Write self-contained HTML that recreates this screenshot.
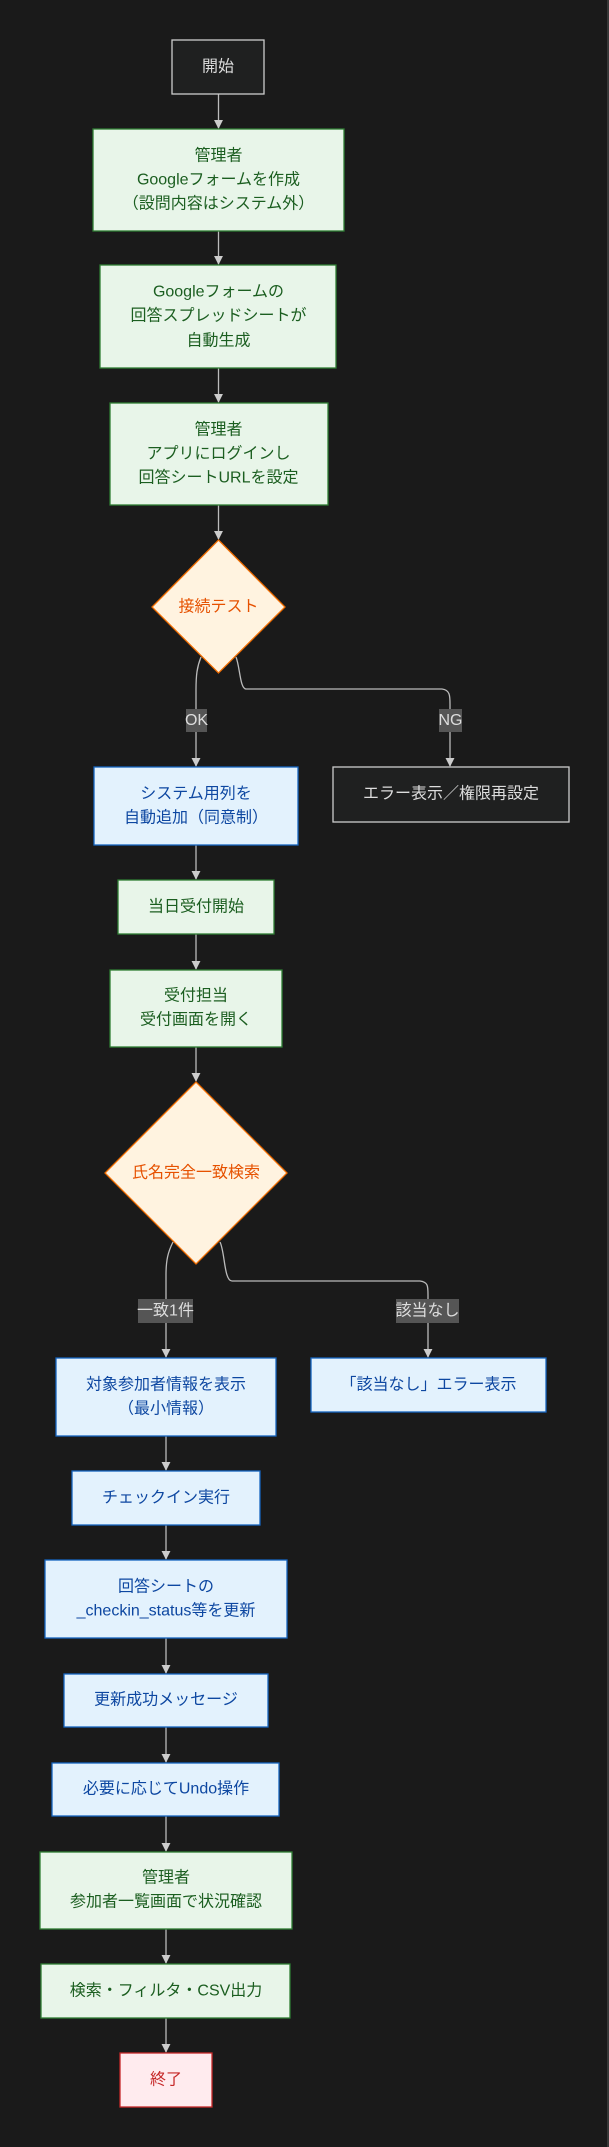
<!DOCTYPE html>
<html><head><meta charset="utf-8"><style>
html,body{margin:0;padding:0;background:#1a1a1a;}
svg{display:block;}
text{font-family:"Liberation Sans","Noto Sans CJK JP",sans-serif;font-size:16px;text-anchor:middle;dominant-baseline:central;}
.g rect{fill:#e8f5e9;stroke:#2e7d32;stroke-width:1.3}
.g text{fill:#1b5e20}
.b rect{fill:#e3f2fd;stroke:#1565c0;stroke-width:1.3}
.b text{fill:#0d47a1}
.d rect{fill:#1f2020;stroke:#cccccc;stroke-width:1.3}
.d text{fill:#dddddd}
.e{fill:none;stroke:#bbbbbb;stroke-width:1.3}
.lb rect{fill:#555555}
.lb text{fill:#dddddd}
</style></head><body>
<svg width="609" height="2147" viewBox="0 0 609 2147" xmlns="http://www.w3.org/2000/svg">
<defs><marker id="a" viewBox="0 0 10 10" refX="9" refY="5" markerWidth="7" markerHeight="7" orient="auto"><path d="M0,0L10,5L0,10z" fill="#cccccc"/></marker></defs>
<rect x="0" y="0" width="609" height="2147" fill="#1a1a1a"/>
<line x1="608" y1="0" x2="608" y2="2147" stroke="#555" stroke-width="1"/>

<g class="e" marker-end="url(#a)">
<path d="M218.5 94V128"/>
<path d="M218.5 231V264"/>
<path d="M218.5 368V402"/>
<path d="M218.5 505V539"/>
<path d="M201 657C197 667 196 675 196 690V766"/>
<path d="M236 657C240 667 240 689 246 689H442C450 690 450 696 450 704V766"/>
<path d="M196 845V879"/>
<path d="M196 934V969"/>
<path d="M196 1047V1081"/>
<path d="M173 1242C168 1252 166 1260 166 1275V1357"/>
<path d="M220 1242C225 1252 224 1281 232 1281H420C428 1282 428 1286 428 1295V1357"/>
<path d="M166 1436V1470"/>
<path d="M166 1525V1559"/>
<path d="M166 1638V1673"/>
<path d="M166 1727V1762"/>
<path d="M166 1816V1851"/>
<path d="M166 1929V1963"/>
<path d="M166 2018V2052"/>
</g>
<g class="lb">
<rect x="186" y="709" width="21" height="23"/><text x="196.5" y="720.5">OK</text>
<rect x="439" y="709" width="23" height="23"/><text x="450.5" y="720.5">NG</text>
<rect x="138" y="1299" width="55" height="24"/><text x="165.5" y="1311">一致1件</text>
<rect x="396" y="1299" width="63" height="24"/><text x="427.5" y="1311">該当なし</text>
</g>

<g class="d"><rect x="172" y="40" width="92" height="54"/><text x="218" y="67">開始</text></g>
<g class="g"><rect x="93" y="129" width="251" height="102"/>
<text x="218.5" y="156">管理者</text><text x="218.5" y="180">Googleフォームを作成</text><text x="218.5" y="204">（設問内容はシステム外）</text></g>
<g class="g"><rect x="100" y="265" width="236" height="103"/>
<text x="218.5" y="292">Googleフォームの</text><text x="218.5" y="316">回答スプレッドシートが</text><text x="218.5" y="341">自動生成</text></g>
<g class="g"><rect x="110" y="403" width="218" height="102"/>
<text x="218.5" y="430">管理者</text><text x="218.5" y="454">アプリにログインし</text><text x="218.5" y="478">回答シートURLを設定</text></g>
<polygon points="218.5,540 285,607 218.5,673 152,607" fill="#fff3e0" stroke="#ef6c00" stroke-width="1.3"/>
<text x="218.5" y="607" fill="#e65100">接続テスト</text>

<g class="b"><rect x="94" y="767" width="204" height="78"/>
<text x="196" y="794">システム用列を</text><text x="196" y="818">自動追加（同意制）</text></g>
<g class="d"><rect x="333" y="767" width="236" height="55"/><text x="451" y="794">エラー表示／権限再設定</text></g>
<g class="g"><rect x="118" y="880" width="156" height="54"/><text x="196" y="907">当日受付開始</text></g>
<g class="g"><rect x="110" y="970" width="172" height="77"/>
<text x="196" y="996">受付担当</text><text x="196" y="1020">受付画面を開く</text></g>
<polygon points="196,1082 287,1173 196,1264 105,1173" fill="#fff3e0" stroke="#ef6c00" stroke-width="1.3"/>
<text x="196" y="1173" fill="#e65100">氏名完全一致検索</text>

<g class="b"><rect x="56" y="1358" width="220" height="78"/>
<text x="166" y="1385">対象参加者情報を表示</text><text x="166" y="1409">（最小情報）</text></g>
<g class="b"><rect x="311" y="1358" width="235" height="54"/><text x="428.5" y="1385">「該当なし」エラー表示</text></g>

<g class="b"><rect x="72" y="1471" width="188" height="54"/><text x="166" y="1498">チェックイン実行</text></g>
<g class="b"><rect x="45" y="1560" width="242" height="78"/>
<text x="166" y="1587">回答シートの</text><text x="166" y="1611">_checkin_status等を更新</text></g>
<g class="b"><rect x="64" y="1674" width="204" height="53"/><text x="166" y="1700">更新成功メッセージ</text></g>
<g class="b"><rect x="52" y="1763" width="227" height="53"/><text x="166" y="1789">必要に応じてUndo操作</text></g>
<g class="g"><rect x="40" y="1852" width="252" height="77"/>
<text x="166" y="1878">管理者</text><text x="166" y="1902">参加者一覧画面で状況確認</text></g>
<g class="g"><rect x="41" y="1964" width="249" height="54"/><text x="166" y="1991">検索・フィルタ・CSV出力</text></g>
<rect x="120" y="2053" width="92" height="54" fill="#ffebee" stroke="#c62828" stroke-width="1.3"/>
<text x="166" y="2080" fill="#c62828">終了</text>
</svg>
</body></html>
